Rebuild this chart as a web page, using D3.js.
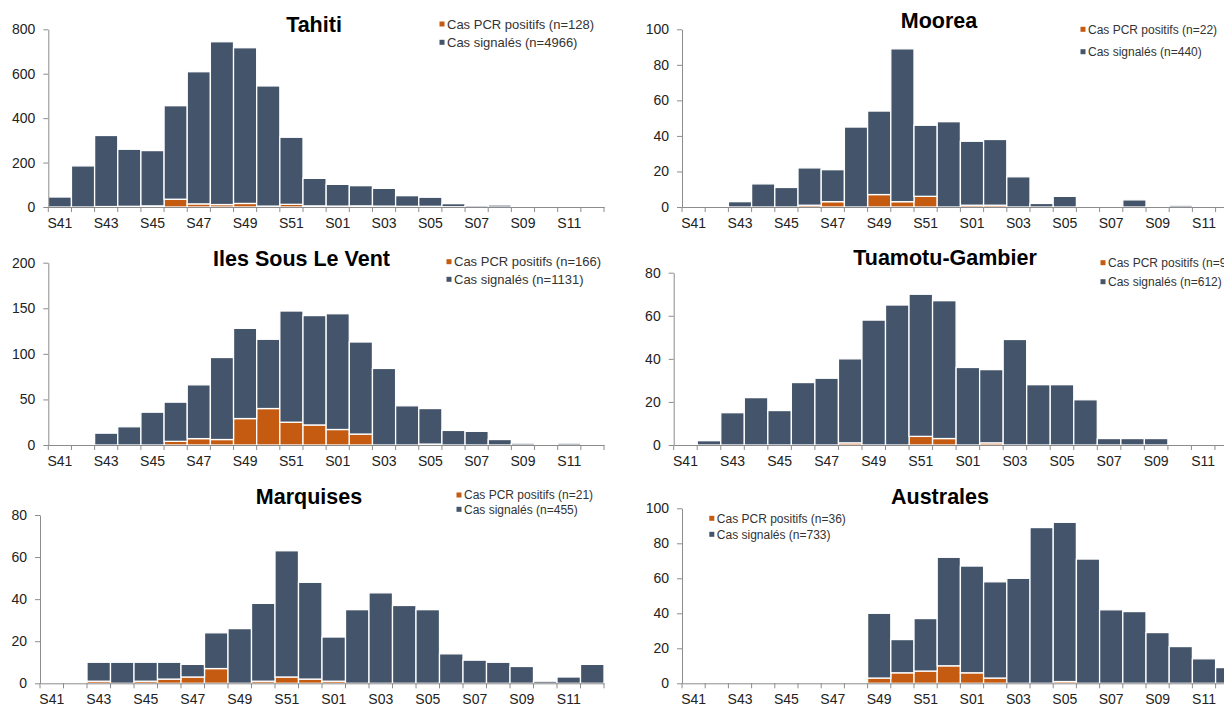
<!DOCTYPE html>
<html>
<head>
<meta charset="utf-8">
<script src="https://cdn.jsdelivr.net/npm/d3@7"></script>
<style>
  html, body { margin: 0; padding: 0; background: #fff; }
  svg { display: block; font-family: "Liberation Sans", Arial, sans-serif; }
</style>
</head>
<body>
<svg id="chart" width="1224" height="705"></svg>
<script>
// ---------- DATA ----------
const weeks = ["S41","S42","S43","S44","S45","S46","S47","S48","S49","S50","S51","S52",
               "S01","S02","S03","S04","S05","S06","S07","S08","S09","S10","S11","S12"];

// PCR-positive cases (bottom segment) and remaining reported cases (top segment)
const pcrTahiti = [0,0,2,3,5,35,14,11,16,4,12,5,4,5,4,3,3,1,0,0,0,0,0,0];
const sigTahiti = [45,185,320,257,249,421,595,733,701,541,302,124,98,91,80,48,41,14,7,9,4,0,0,0];

const pcrMoorea = [0,0,0,0,0,1,3,0,7,3,6,0,1,1,0,0,0,0,0,0,0,0,0,0];
const sigMoorea = [0,0,3,13,11,21,18,45,47,86,40,48,36,37,17,2,6,0,0,4,0,1,0,0];

const pcrISLV = [0,0,0,0,0,4,7,6,29,40,25,22,17,12,0,0,1,0,0,0,0,0,0,0];
const sigISLV = [0,0,13,20,36,43,59,90,99,76,122,120,127,101,84,43,39,16,15,6,2,0,2,0];

const pcrTuamotu = [0,0,0,0,0,0,0,1,0,0,4,3,0,1,0,0,0,0,0,0,0,0,0,0];
const sigTuamotu = [0,2,15,22,16,29,31,39,58,65,66,64,36,34,49,28,28,21,3,3,3,0,0,0];

const pcrMarquises = [0,0,1,0,1,2,3,7,0,1,3,2,1,0,0,0,0,0,0,0,0,0,0,0];
const sigMarquises = [0,0,9,10,9,8,6,17,26,37,60,46,21,35,43,37,35,14,11,10,8,1,3,9];

const pcrAustrales = [0,0,0,0,0,0,0,0,3,6,7,10,6,3,0,0,1,0,0,0,0,0,0,0];
const sigAustrales = [0,0,0,0,0,0,0,0,37,19,30,62,61,55,60,89,91,71,42,41,29,21,14,9];

const titles = ["Tahiti","Moorea","Iles Sous Le Vent","Tuamotu-Gambier","Marquises","Australes"];
const legendPCR = ["Cas PCR positifs (n=128)","Cas PCR positifs (n=22)","Cas PCR positifs (n=166)",
                   "Cas PCR positifs (n=9)","Cas PCR positifs (n=21)","Cas PCR positifs (n=36)"];
const legendSig = ["Cas signalés (n=4966)","Cas signalés (n=440)","Cas signalés (n=1131)",
                   "Cas signalés (n=612)","Cas signalés (n=455)","Cas signalés (n=733)"];
const yMaxes = [800,100,200,80,80,100];
const ySteps = [200,20,50,20,20,20];

// ---------- LAYOUT ----------
const layout = [
  {x0:48.3, x1:604,   y0:207,   yTop:29.3,  tx:314, ty:31.5, lx:439.5, ly1:24,    ly2:42.3,  lfs:13},
  {x0:682,  x1:1238.8,y0:207,   yTop:29.3,  tx:939, ty:27.5, lx:1080.5,ly1:29.3,  ly2:51.7,  lfs:12},
  {x0:48.3, x1:604,   y0:445,   yTop:262.7, tx:301.5,ty:266, lx:446.5, ly1:261.7, ly2:279.3, lfs:13},
  {x0:673.7,x1:1238.5,y0:445,   yTop:272.7, tx:945, ty:265,  lx:1100.5,ly1:262.7, ly2:281.7, lfs:12},
  {x0:40,   x1:604,   y0:683.3, yTop:515,   tx:309, ty:504.3,lx:456.5, ly1:495,   ly2:509.3, lfs:12},
  {x0:682,  x1:1238.8,y0:683.3, yTop:508.3, tx:940, ty:504,  lx:709.3, ly1:518.3, ly2:534.3, lfs:12}
];
const pcrs = [pcrTahiti,pcrMoorea,pcrISLV,pcrTuamotu,pcrMarquises,pcrAustrales];
const sigs = [sigTahiti,sigMoorea,sigISLV,sigTuamotu,sigMarquises,sigAustrales];

const COL_SIG = "#44546A", COL_PCR = "#C55A11";
const AXIS_COL = "#8c8c8c", TEXT_COL = "#222";

const svg = d3.select("#chart");
svg.append("rect").attr("width",1224).attr("height",705).attr("fill","#fff");

layout.forEach((L, i) => {
  const g = svg.append("g");
  const rows = weeks.map((w, k) => ({week: w, pcr: pcrs[i][k], sig: sigs[i][k]}));
  const x = d3.scaleBand().domain(weeks).range([L.x0, L.x1]).padding(0);
  const y = d3.scaleLinear().domain([0, yMaxes[i]]).range([L.y0, L.yTop]);
  const series = d3.stack().keys(["pcr","sig"])(rows);
  const colors = {pcr: COL_PCR, sig: COL_SIG};

  // bars
  series.forEach(s => {
    g.append("g").selectAll("rect")
      .data(s.filter(d => d[1] - d[0] > 0))
      .join("rect")
      .attr("x", d => x(d.data.week))
      .attr("width", x.bandwidth())
      .attr("y", d => y(d[1]))
      .attr("height", d => y(d[0]) - y(d[1]))
      .attr("fill", colors[s.key])
      .attr("stroke", "#fff")
      .attr("stroke-width", 1.3);
  });

  // y axis
  const ya = g.append("g").attr("transform", `translate(${L.x0},0)`)
    .call(d3.axisLeft(y).tickValues(d3.range(0, yMaxes[i] + 1, ySteps[i]))
      .tickSize(5).tickPadding(8).tickSizeOuter(0));
  ya.select(".domain").attr("stroke", AXIS_COL);
  ya.selectAll(".tick line").attr("stroke", AXIS_COL);
  ya.selectAll(".tick text").attr("fill", TEXT_COL).style("font-size","14px")
    .style("font-family","'Liberation Sans', Arial, sans-serif");

  // x axis
  const xa = g.append("g").attr("transform", `translate(0,${L.y0})`)
    .call(d3.axisBottom(x).tickSize(0).tickSizeOuter(0).tickPadding(11)
      .tickFormat((d, k) => k % 2 === 0 ? d : ""));
  xa.select(".domain").attr("stroke", AXIS_COL);
  xa.selectAll(".tick text").attr("fill", TEXT_COL).style("font-size","14px")
    .style("font-family","'Liberation Sans', Arial, sans-serif");
  // boundary tick marks
  const bounds = weeks.map(w => x(w)).concat([x(weeks[weeks.length-1]) + x.bandwidth()]);
  xa.selectAll(".bt").data(bounds).join("line").attr("class","bt")
    .attr("x1", d => d).attr("x2", d => d).attr("y1", 0).attr("y2", 5)
    .attr("stroke", AXIS_COL);

  // title
  g.append("text").attr("x", L.tx).attr("y", L.ty).attr("text-anchor","middle")
    .style("font-size","21.5px").style("font-weight","bold").attr("fill","#000")
    .text(titles[i]);

  // legend
  const leg = [[COL_PCR, legendPCR[i], L.ly1],[COL_SIG, legendSig[i], L.ly2]];
  leg.forEach(([c, t, cy]) => {
    g.append("rect").attr("x", L.lx).attr("y", cy - 2.5).attr("width", 5).attr("height", 5).attr("fill", c);
    g.append("text").attr("x", L.lx + 7.5).attr("y", cy).attr("dy","0.35em")
      .style("font-size", L.lfs + "px").attr("fill","#333").text(t);
  });
});
</script>
</body>
</html>
